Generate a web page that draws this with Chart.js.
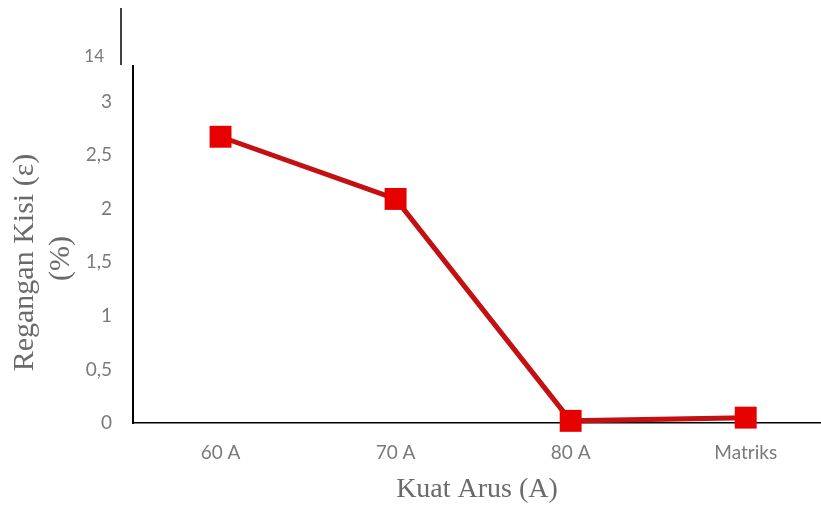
<!DOCTYPE html>
<html>
<head>
<meta charset="utf-8">
<script src="https://cdn.jsdelivr.net/npm/chart.js@4/dist/chart.umd.min.js"></script>
<style>
  html, body { margin: 0; padding: 0; background: #fff; }
  #wrap { width: 821px; height: 510px; position: relative; }
</style>
</head>
<body>
<div id="wrap"><canvas id="c" width="821" height="510"></canvas></div>
<script>
// Lattice strain by welding current
const categories = ['60 A', '70 A', '80 A', 'Matriks'];
const strainValues = [2.67, 2.09, 0.02, 0.05];
const yTicks = [0, 0.5, 1, 1.5, 2, 2.5, 3];
const yTitleLines = ['Regangan Kisi (ε)', '(%)'];

const points = categories.map((c, i) => ({ x: i, y: strainValues[i] }));

const tickFont = { family: 'Lato, "Open Sans", sans-serif', size: 19 };
const titleFont = '"Liberation Serif", "Times New Roman", serif';

// Leftover axis fragment drawn above the plot (upper panel edge)
const upperFragment = {
  id: 'upperFragment',
  afterDraw(chart) {
    const ctx = chart.ctx;
    ctx.save();
    ctx.strokeStyle = '#000';
    ctx.lineWidth = 1.5;
    ctx.beginPath();
    ctx.moveTo(121, 8);
    ctx.lineTo(121, 65);
    ctx.stroke();
    ctx.fillStyle = '#7a7a7a';
    ctx.font = '17px Lato, "Open Sans", sans-serif';
    ctx.textAlign = 'right';
    ctx.textBaseline = 'middle';
    ctx.fillText('14', 104, 57);
    ctx.restore();
  }
};

// Two-line rotated title for the value axis, placed slightly below the axis midpoint
const yAxisTitle = {
  id: 'yAxisTitle',
  afterDraw(chart) {
    const ctx = chart.ctx;
    const area = chart.chartArea;
    const mid = (area.top + area.bottom) / 2;
    ctx.save();
    ctx.fillStyle = '#6a6a6a';
    ctx.font = '30px ' + titleFont;
    ctx.textAlign = 'center';
    ctx.textBaseline = 'middle';
    [[25, mid + 18], [61, mid + 14]].forEach(([x, y], i) => {
      ctx.save();
      ctx.translate(x, y);
      ctx.rotate(-Math.PI / 2);
      ctx.fillText(yTitleLines[i], 0, 0);
      ctx.restore();
    });
    ctx.restore();
  }
};

new Chart(document.getElementById('c'), {
  type: 'line',
  data: {
    datasets: [{
      data: points,
      borderColor: '#c41010',
      borderWidth: 5,
      backgroundColor: '#e60000',
      pointStyle: 'rect',
      pointRadius: 15.5,
      pointBorderWidth: 0,
      pointHoverRadius: 15.5,
      tension: 0,
      clip: false
    }]
  },
  options: {
    responsive: false,
    animation: false,
    layout: { autoPadding: false, padding: { top: 66, right: 0, left: 0, bottom: 0 } },
    plugins: { legend: { display: false }, tooltip: { enabled: false } },
    scales: {
      x: {
        type: 'linear',
        min: -0.5,
        max: 3.43,
        afterBuildTicks(scale) { scale.ticks = categories.map((c, i) => ({ value: i })); },
        afterFit(scale) {
          scale.height = 87;
          scale.paddingLeft = 0;
          scale.paddingRight = 0;
        },
        grid: { display: false, drawTicks: false },
        border: { display: true, color: '#000', width: 1.5 },
        ticks: {
          callback: (v) => categories[v],
          color: '#7a7a7a',
          font: tickFont,
          maxRotation: 0,
          padding: 18
        },
        title: {
          display: true,
          text: 'Kuat Arus (A)',
          color: '#6a6a6a',
          font: { family: titleFont, size: 28 },
          padding: { top: 7 }
        }
      },
      y: {
        type: 'linear',
        min: 0,
        max: 3.33,
        afterBuildTicks(scale) { scale.ticks = yTicks.map(v => ({ value: v })); },
        afterFit(scale) {
          scale.width = 133;
          scale.paddingTop = 0;
          scale.paddingBottom = 0;
        },
        grid: { display: false, drawTicks: false },
        border: { display: true, color: '#000', width: 2 },
        ticks: {
          callback: (v) => String(v).replace('.', ','),
          color: '#7a7a7a',
          font: tickFont,
          padding: 21
        },
        title: { display: false }
      }
    }
  },
  plugins: [upperFragment, yAxisTitle]
});
</script>
</body>
</html>
